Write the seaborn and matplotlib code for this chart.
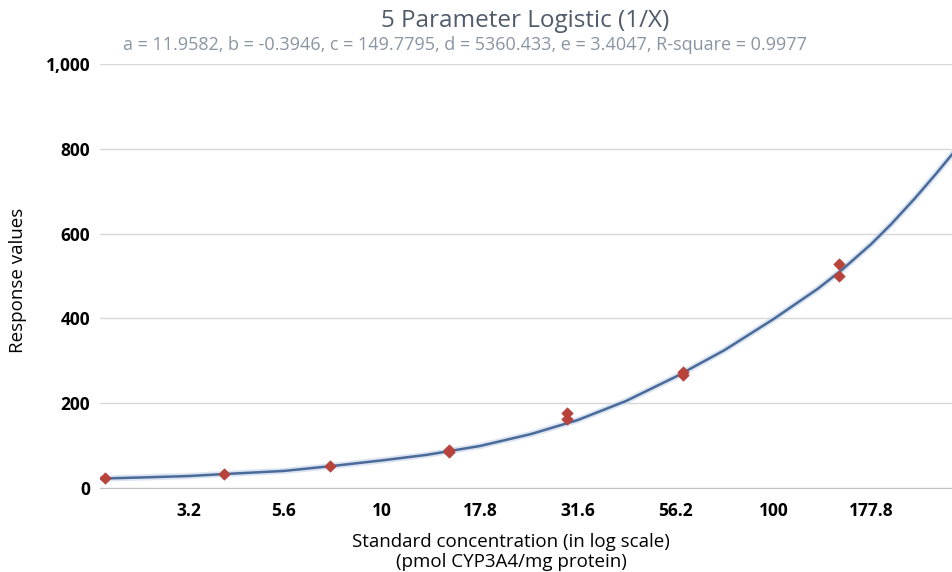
import matplotlib
matplotlib.use("Agg")
import matplotlib.pyplot as plt
import seaborn as sns
import pandas as pd

# standards (measured points)
std_conc = [1.96, 3.94, 7.36, 14.8, 14.8, 29.6, 29.6, 58.9, 58.9, 147, 147, 300]
std_resp = [24, 33, 52, 85, 90, 177, 163, 274, 267, 528, 500, 835]

# fitted curve
fit_conc = [1.9, 2.5, 3.2, 4, 5.6, 7.5, 10, 13, 17.8, 24, 31.6, 42, 56.2, 75,
            100, 130, 150, 177.8, 200, 230, 260, 290]
fit_resp = [22, 25, 28, 33, 40, 52, 65, 78, 99, 127, 160, 205, 262, 325,
            398, 470, 515, 575, 622, 683, 740, 793]

tick_vals = [3.2, 5.6, 10, 17.8, 31.6, 56.2, 100, 177.8]
tick_labels = ['3.2', '5.6', '10', '17.8', '31.6', '56.2', '100', '177.8']

pts = pd.DataFrame({'conc': std_conc, 'resp': std_resp})
fit = pd.DataFrame({'conc': fit_conc, 'resp': fit_resp})

sns.set_style('white')
plt.rcParams['font.family'] = ['Open Sans', 'DejaVu Sans']

fig = plt.figure(figsize=(9.53, 5.72), dpi=100)
ax = fig.add_axes([0.105, 0.147, 0.895, 0.741])

# soft halo under the fitted line
sns.lineplot(data=fit, x='conc', y='resp', ax=ax, color='#c3d4e8',
             linewidth=4.5, alpha=0.6, zorder=2)
sns.lineplot(data=fit, x='conc', y='resp', ax=ax, color='#4a6a9a',
             linewidth=1.8, zorder=3)
sns.scatterplot(data=pts, x='conc', y='resp', ax=ax, marker='D', s=34,
                color='#b8433b', edgecolor='#b8433b', zorder=4)

ax.set_xscale('log')
ax.set_xlim(1.9, 288)
ax.set_ylim(0, 1000)
ax.minorticks_off()
ax.set_xticks(tick_vals)
ax.set_xticklabels(tick_labels)
ax.set_yticks(range(0, 1001, 200))
ax.set_yticklabels(['0', '200', '400', '600', '800', '1,000'])

ax.grid(axis='y', color='#d8d8d8', linewidth=1)
ax.grid(axis='x', visible=False)
for s in ['top', 'right', 'left']:
    ax.spines[s].set_visible(False)
ax.spines['bottom'].set_color('#c0c0c0')
ax.tick_params(axis='x', length=5, color='#c8c8c8', pad=5,
               labelsize=12.5, labelcolor='black')
ax.tick_params(axis='y', length=0, pad=7, labelsize=12.5, labelcolor='black')
for lab in ax.get_xticklabels() + ax.get_yticklabels():
    lab.set_fontweight('bold')

ax.set_xlabel('Standard concentration (in log scale)\n(pmol CYP3A4/mg protein)',
              fontsize=13.5, color='black', linespacing=1.15)
ax.xaxis.set_label_coords(0.482, -0.106)
ax.set_ylabel('Response values', fontsize=13.5, color='black')
ax.yaxis.set_label_coords(-0.086, 0.49)

fig.text(0.551, 0.963, '5 Parameter Logistic (1/X)', ha='center', va='center',
         fontsize=17.5, color='#505b6b')
fig.text(0.488, 0.922,
         'a = 11.9582, b = -0.3946, c = 149.7795, d = 5360.433, e = 3.4047, R-square = 0.9977',
         ha='center', va='center', fontsize=13, color='#8a95a3')

fig.savefig('out.png', dpi=100)
